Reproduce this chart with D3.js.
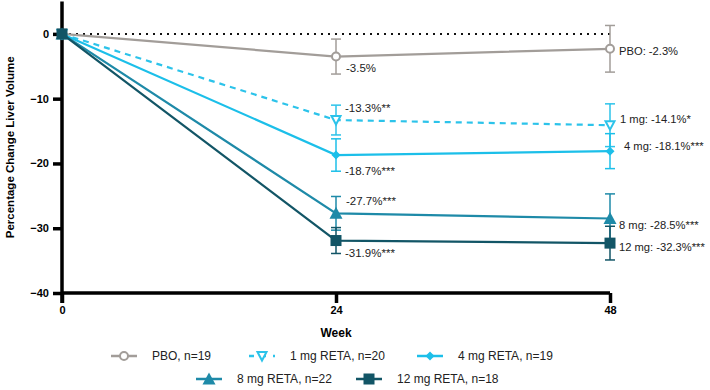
<!DOCTYPE html>
<html><head><meta charset="utf-8">
<script src="https://cdn.jsdelivr.net/npm/d3@7"></script>
<style>body{margin:0;background:#fff}svg{display:block;font-family:"Liberation Sans",Arial,sans-serif}</style>
</head><body><svg id="c" width="710" height="390"></svg>
<script>
const weeks = [0, 24, 48];
const yTicks = [0, -10, -20, -30, -40];
const seriesNames = ["PBO, n=19", "1 mg RETA, n=20", "4 mg RETA, n=19", "8 mg RETA, n=22", "12 mg RETA, n=18"];
const pboValues = [0, -3.5, -2.3];
const mg1Values = [0, -13.3, -14.1];
const mg4Values = [0, -18.7, -18.1];
const mg8Values = [0, -27.7, -28.5];
const mg12Values = [0, -31.9, -32.3];
const pboErr = [0, 2.7, 3.6];
const mg1Err = [0, 2.3, 3.3];
const mg4Err = [0, 2.5, 2.7];
const mg8Err = [0, 2.6, 3.8];
const mg12Err = [0, 2.0, 2.6];
const labels24 = ["-3.5%", "-13.3%**", "-18.7%***", "-27.7%***", "-31.9%***"];
const labels48 = ["PBO: -2.3%", "1 mg: -14.1%*", "4 mg: -18.1%***", "8 mg: -28.5%***", "12 mg: -32.3%***"];

const colors = ["#a29d99", "#2cc3ea", "#1cbfe9", "#1e8aa8", "#125566"];
const symbols = ["circle", "tri-down", "diamond", "tri-up", "square"];
const dashes = [null, "6,5", null, null, null];
const vals = [pboValues, mg1Values, mg4Values, mg8Values, mg12Values];
const errs = [pboErr, mg1Err, mg4Err, mg8Err, mg12Err];
// label offsets (layout)
const off24 = [[10, 11], [9, -12.5], [9, 15.5], [10, -12], [9, 12]];
const off48 = [[9, 2], [10, -6], [14, -5], [9, 7], [9, 4]];

const svg = d3.select("#c");
const x = d3.scaleLinear().domain([0, 48]).range([62, 610]);
const y = d3.scaleLinear().domain([-40, 5]).range([293, 1.5]);

// zero line
svg.append("line").attr("x1", x(0)).attr("x2", x(48)).attr("y1", y(0)).attr("y2", y(0))
  .attr("stroke", "#111").attr("stroke-width", 2).attr("stroke-dasharray", "2,5");

// axes
const yAxis = svg.append("g").attr("transform", `translate(${x(0)},0)`)
  .call(d3.axisLeft(y).tickValues(yTicks).tickSize(9).tickPadding(4).tickFormat(d3.format("d")));
const xAxis = svg.append("g").attr("transform", `translate(0,${y(-40)})`)
  .call(d3.axisBottom(x).tickValues(weeks).tickSize(10).tickPadding(3));
[yAxis, xAxis].forEach(g => {
  g.select(".domain").attr("stroke", "#000").attr("stroke-width", 3.5);
  g.selectAll(".tick line").attr("stroke", "#000").attr("stroke-width", 3.5);
  g.selectAll("text").attr("fill", "#000").attr("font-size", 11).attr("font-weight", "bold")
   .attr("font-family", "Liberation Sans, Arial, sans-serif");
});
yAxis.select(".domain").attr("d", `M0,${y(5)}V${y(-40) + 10}`);
xAxis.select(".domain").attr("d", `M${x(0)},0H${x(48)}`);

svg.append("text").attr("x", x(24)).attr("y", 337).attr("text-anchor", "middle")
  .attr("font-size", 12).attr("font-weight", "bold").text("Week");
svg.append("text").attr("transform", `translate(14,${y(-17.5)}) rotate(-90)`).attr("text-anchor", "middle")
  .attr("font-size", 11.5).attr("font-weight", "bold").text("Percentage Change Liver Volume");

function marker(g, type, cx, cy, color, s) {
  s = s || 1;
  if (type === "circle") g.append("circle").attr("cx", cx).attr("cy", cy).attr("r", 4 * s).attr("fill", "#fff").attr("stroke", color).attr("stroke-width", 2);
  else if (type === "tri-down") g.append("path").attr("d", `M${cx - 4.5 * s},${cy - 4 * s}L${cx + 4.5 * s},${cy - 4 * s}L${cx},${cy + 4.5 * s}Z`).attr("fill", "#fff").attr("stroke", color).attr("stroke-width", 2);
  else if (type === "diamond") g.append("path").attr("d", `M${cx},${cy - 4.5 * s}L${cx + 4.5 * s},${cy}L${cx},${cy + 4.5 * s}L${cx - 4.5 * s},${cy}Z`).attr("fill", color);
  else if (type === "tri-up") g.append("path").attr("d", `M${cx - 6.5 * s},${cy + 5.5 * s}L${cx + 6.5 * s},${cy + 5.5 * s}L${cx},${cy - 6.5 * s}Z`).attr("fill", color);
  else if (type === "square") g.append("rect").attr("x", cx - 5.5 * s).attr("y", cy - 5.5 * s).attr("width", 11 * s).attr("height", 11 * s).attr("fill", color);
}

const line = d3.line().x((d, i) => x(weeks[i])).y(d => y(d));
vals.forEach((v, k) => {
  const g = svg.append("g");
  v.forEach((d, i) => {
    if (errs[k][i] === 0) return;
    const cx = x(weeks[i]), t = y(d + errs[k][i]), b = y(d - errs[k][i]);
    g.append("line").attr("x1", cx).attr("x2", cx).attr("y1", t).attr("y2", b).attr("stroke", colors[k]).attr("stroke-width", 1.5);
    [t, b].forEach(yy => g.append("line").attr("x1", cx - 5).attr("x2", cx + 5).attr("y1", yy).attr("y2", yy).attr("stroke", colors[k]).attr("stroke-width", 1.5));
  });
  g.append("path").attr("d", line(v)).attr("fill", "none").attr("stroke", colors[k]).attr("stroke-width", 2.2)
    .attr("stroke-dasharray", dashes[k]);
  v.forEach((d, i) => marker(g, symbols[k], x(weeks[i]), y(d), colors[k]));
  g.append("text").attr("x", x(24) + off24[k][0]).attr("y", y(v[1]) + off24[k][1]).attr("dy", "0.35em")
    .attr("font-size", 11.5).attr("fill", "#222").text(labels24[k]);
  g.append("text").attr("x", x(48) + off48[k][0]).attr("y", y(v[2]) + off48[k][1]).attr("dy", "0.35em")
    .attr("font-size", 11.2).attr("fill", "#222").text(labels48[k]);
});

// legend
const legPos = [[124, 356], [262, 356], [430, 356], [209, 379], [369, 379]];
seriesNames.forEach((n, k) => {
  const g = svg.append("g");
  const [cx, cy] = legPos[k];
  g.append("line").attr("x1", cx - 13).attr("x2", cx + 13).attr("y1", cy).attr("y2", cy)
    .attr("stroke", colors[k]).attr("stroke-width", 2.5).attr("stroke-dasharray", dashes[k] ? "5,7" : null);
  marker(g, symbols[k], cx, cy, colors[k], 1);
  g.append("text").attr("x", cx + 28).attr("y", cy).attr("dy", "0.35em").attr("font-size", 12).attr("fill", "#222").text(n);
});
</script></body></html>
